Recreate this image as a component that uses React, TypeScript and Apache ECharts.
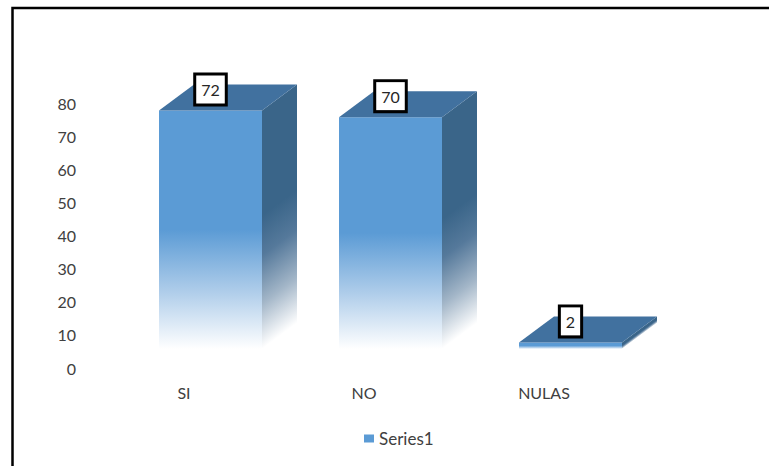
import React, { useEffect, useRef } from "react";
import * as echarts from "echarts";

const categories = ["SI", "NO", "NULAS"];
const seriesName = "Series1";
const seriesValues = [72, 70, 2];
const yTicks = [0, 10, 20, 30, 40, 50, 60, 70, 80];

const FONT = 'Lato, "Noto Sans", sans-serif';
const TEXT_COLOR = "#404040";
const FRONT = "#5B9BD5";
const TOP = "#41719F";
const SIDE = "#3A6589";

// Oblique projection of the 3D columns: the floor sits up and to the right of the axis.
const FLOOR_DX = 26.5;
const FLOOR_DY = -19;
const DEPTH_X = 35;
const DEPTH_Y = -26;
const BAR_WIDTH = 103;

function renderColumn(params: any, api: any) {
  const value = api.value(1);
  const [cx, cy] = api.coord([api.value(0), value]);
  const [, by] = api.coord([api.value(0), 0]);
  const x0 = cx + FLOOR_DX - BAR_WIDTH / 2;
  const x1 = x0 + BAR_WIDTH;
  const top = cy + FLOOR_DY;
  const base = by + FLOOR_DY;
  const height = base - top;
  const fadeFrom = top + height * 0.5;

  const frontFill = new echarts.graphic.LinearGradient(
    0,
    top,
    0,
    base,
    [
      { offset: 0, color: FRONT },
      { offset: 0.5, color: FRONT },
      { offset: 0.76, color: "#AFCDEA" },
      { offset: 1, color: "#FFFFFF" },
    ],
    true
  );

  // The side face fades along the normal of its slanted lower edge.
  const nx = 0.596;
  const ny = 0.803;
  const span = (base - fadeFrom) * ny * 1.12;
  const sideFill = new echarts.graphic.LinearGradient(
    x1 - span * nx,
    base - span * ny,
    x1,
    base,
    [
      { offset: 0, color: SIDE },
      { offset: 0.3, color: "#55799B" },
      { offset: 0.66, color: "#A3B6C8" },
      { offset: 1, color: "#FFFFFF" },
    ],
    true
  );

  return {
    type: "group",
    children: [
      {
        type: "polygon",
        shape: { points: [[x0, top], [x1, top], [x1, base], [x0, base]] },
        style: { fill: frontFill },
      },
      {
        type: "polygon",
        shape: {
          points: [
            [x1, top],
            [x1 + DEPTH_X, top + DEPTH_Y],
            [x1 + DEPTH_X, base + DEPTH_Y],
            [x1, base],
          ],
        },
        style: { fill: sideFill },
      },
      {
        type: "polygon",
        shape: {
          points: [
            [x0, top],
            [x0 + DEPTH_X, top + DEPTH_Y],
            [x1 + DEPTH_X, top + DEPTH_Y],
            [x1, top],
          ],
        },
        style: { fill: TOP },
      },
      {
        type: "text",
        z2: 10,
        style: {
          text: String(value),
          x: (x0 + x1) / 2,
          y: top - 21,
          align: "center",
          verticalAlign: "middle",
          font: `16px ${FONT}`,
          fill: "#262626",
          backgroundColor: "#FFFFFF",
          borderColor: "#000000",
          borderWidth: 3,
          padding: [6, 5, 6, 5],
        },
      },
    ],
  };
}

export default function App() {
  const ref = useRef<HTMLDivElement>(null);

  useEffect(() => {
    document.body.style.margin = "0";
    const chart = echarts.init(ref.current!, null, { renderer: "svg" });
    chart.setOption({
      animation: false,
      backgroundColor: "#FFFFFF",
      grid: { left: 94, width: 540, top: 103, height: 265 },
      legend: {
        data: [{ name: seriesName, icon: "rect" }],
        left: 359,
        top: 425,
        itemWidth: 10,
        itemHeight: 8,
        itemGap: 4,
        textStyle: { fontFamily: FONT, fontSize: 17, color: TEXT_COLOR },
      },
      xAxis: {
        type: "category",
        data: categories,
        axisLine: { show: false },
        axisTick: { show: false },
        axisLabel: { fontFamily: FONT, fontSize: 16, color: TEXT_COLOR, margin: 16 },
      },
      yAxis: {
        type: "value",
        min: yTicks[0],
        max: yTicks[yTicks.length - 1],
        interval: yTicks[1] - yTicks[0],
        axisLine: { show: false },
        axisTick: { show: false },
        splitLine: { show: false },
        axisLabel: { fontFamily: FONT, fontSize: 16, color: TEXT_COLOR, margin: 18 },
      },
      series: [
        {
          type: "custom",
          name: seriesName,
          renderItem: renderColumn,
          encode: { x: 0, y: 1 },
          itemStyle: { color: FRONT },
          data: seriesValues.map((v, i) => [i, v]),
        },
      ],
      graphic: [
        {
          type: "polyline",
          silent: true,
          shape: { points: [[12.5, 466], [12.5, 8], [769, 8]] },
          style: { stroke: "#000000", lineWidth: 2.5, fill: "none" },
        },
      ],
    });
    return () => chart.dispose();
  }, []);

  return <div ref={ref} style={{ position: "absolute", left: 0, top: 0, width: 769, height: 466 }} />;
}
